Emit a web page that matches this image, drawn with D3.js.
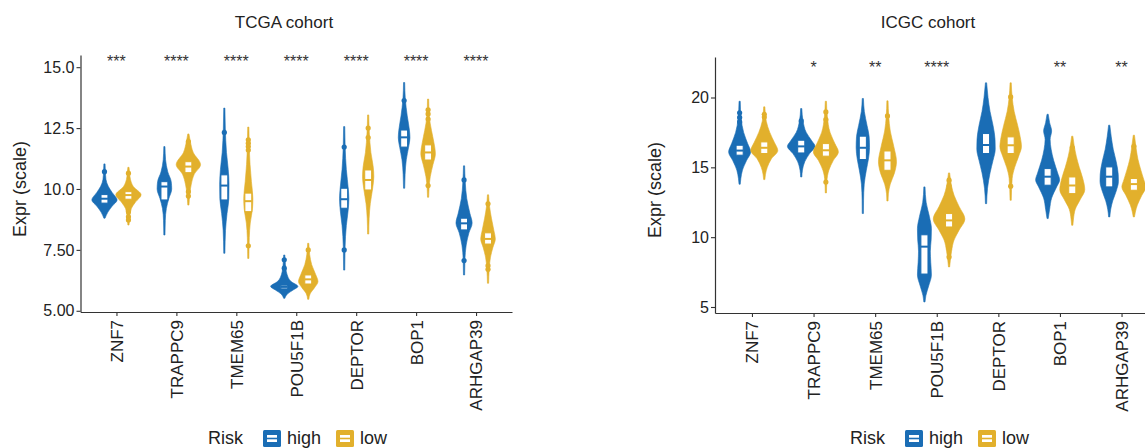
<!DOCTYPE html>
<html><head><meta charset="utf-8">
<script src="https://cdn.jsdelivr.net/npm/d3@7"></script>
<style>
body{margin:0;background:#fff}
text{font-family:"Liberation Sans",Arial,Helvetica,sans-serif}
</style>
</head><body>
<svg id="c" width="1145" height="448"></svg>
<script>
// ---------------- DATA ----------------
const genes = ["ZNF7","TRAPPC9","TMEM65","POU5F1B","DEPTOR","BOP1","ARHGAP39"];
const riskGroups = ["high","low"];
const riskColors = ["#1a6db5","#e2b02c"];
const legendTitle = "Risk";
const yTitle = "Expr (scale)";
const tcgaTitle = "TCGA cohort";
const icgcTitle = "ICGC cohort";

const tcgaStars = ["***","****","****","****","****","****","****"];
const icgcStars = ["","*","**","****","","**","**"];

const tcgaYTicks = [5,7.5,10,12.5,15];
const tcgaYTickLabels = ["5.00","7.50","10.0","12.5","15.0"];
const icgcYTicks = [5,10,15,20];
const icgcYTickLabels = ["5","10","15","20"];

// violin profiles: [value, relative density]
const tcgaHighDensity = [
  [[11.03,0.6],[10.7,1],[10.4,1.5],[10.1,4],[9.85,8],[9.55,13],[9.3,8],[9.05,3.5],[8.8,0.6]],
  [[11.74,0.6],[11.2,1.2],[10.7,3.5],[10.3,7],[10.0,7.5],[9.6,4.5],[9.2,2],[8.7,0.9],[8.11,0.6]],
  [[13.32,0.6],[12.5,1],[11.5,2.2],[10.8,4],[10.2,4.8],[9.6,4.6],[9.0,2.8],[8.3,1.2],[7.36,0.6]],
  [[7.29,0.6],[6.9,1.2],[6.5,2.8],[6.2,7],[6.0,14],[5.85,9],[5.7,3.5],[5.51,0.6]],
  [[12.56,0.6],[11.7,1],[10.8,2.2],[10.0,4.2],[9.6,4.8],[9.1,4],[8.5,2.2],[7.6,0.9],[6.67,0.6]],
  [[14.37,0.6],[13.7,1.2],[13.0,3.2],[12.4,5.5],[12.1,6],[11.7,4.5],[11.2,2.2],[10.6,1],[10.03,0.6]],
  [[10.95,0.6],[10.3,1.2],[9.6,2.8],[9.0,6],[8.6,8.3],[8.2,5],[7.7,2.2],[7.1,0.9],[6.47,0.6]]
];
const tcgaLowDensity = [
  [[10.89,0.6],[10.65,1.2],[10.4,2],[10.1,5],[9.76,13],[9.45,7],[9.2,3],[8.9,1.5],[8.52,0.6]],
  [[12.26,0.6],[11.95,2],[11.5,5],[11.0,12.5],[10.6,6],[10.2,3],[9.8,1.5],[9.34,0.6]],
  [[12.54,0.6],[11.8,1],[11.0,1.8],[10.3,3.2],[9.6,4.7],[9.2,4.3],[8.6,2],[8.0,1],[7.15,0.6]],
  [[7.77,0.6],[7.3,1.5],[6.9,3.5],[6.5,7.5],[6.2,10],[5.95,6.5],[5.7,2],[5.47,0.6]],
  [[13.04,0.6],[12.3,1.2],[11.5,2.8],[10.9,5.2],[10.5,5.8],[10.0,4.5],[9.4,2.2],[8.8,1],[8.15,0.6]],
  [[13.69,0.6],[13.0,1.2],[12.4,3.5],[11.9,6],[11.45,7.5],[11.0,5],[10.5,2.2],[10.0,0.9],[9.66,0.6]],
  [[9.76,0.6],[9.3,1.5],[8.8,3.5],[8.3,6],[7.95,7.5],[7.6,5],[7.2,2.5],[6.7,1.2],[6.13,0.6]]
];
// box stats: [q1, median, q3]
const tcgaHighBox = [[9.42,9.6,9.77],[9.55,10.1,10.3],[9.55,10.14,10.58],[5.9,5.98,6.05],[9.21,9.58,10.03],[11.72,12.12,12.42],[8.32,8.59,8.8]];
const tcgaLowBox  = [[9.58,9.75,9.89],[10.67,10.92,11.12],[9.07,9.5,9.83],[6.1,6.29,6.47],[9.96,10.37,10.78],[11.19,11.5,11.81],[7.74,7.95,8.2]];
const tcgaHighOutliers = [[10.71],[],[12.32],[7.09,6.75],[11.72,7.5],[13.63],[10.37,7.06]];
const tcgaLowOutliers  = [[10.65,9.07,8.86,8.73],[11.95,9.89,9.71],[12.02,11.88,11.74,11.6,7.67],[7.5],[12.5,12.11],[13.25,13.08,12.87,10.14],[9.39,6.85,6.7]];

const icgcHighDensity = [
  [[19.73,0.6],[18.5,1.5],[17.5,4],[16.7,8],[16.1,11],[15.5,7],[14.8,2.8],[14.2,1.2],[13.79,0.6]],
  [[19.21,0.6],[18.3,1.8],[17.5,5],[16.9,10.5],[16.5,13.8],[16.0,8.5],[15.4,3.5],[14.8,1.2],[14.31,0.6]],
  [[19.93,0.6],[19.0,1.5],[18.0,4.2],[17.2,6.3],[16.4,6.7],[15.6,5.6],[14.8,3.5],[13.8,1.4],[12.6,0.7],[11.69,0.6]],
  [[13.6,0.6],[12.5,1.7],[11.5,4.9],[10.6,7],[9.8,6.7],[9.0,5.9],[8.2,6.3],[7.3,7],[6.5,4.2],[5.8,1.4],[5.36,0.6]],
  [[21.05,0.6],[20,2],[19,4],[18,7],[17,9],[16.3,9.2],[15.5,7],[14.6,4],[13.5,1.5],[12.4,0.6]],
  [[18.8,0.6],[18.2,2],[17.6,4],[17.0,2.5],[16.3,3.5],[15.5,6],[14.6,10],[14.1,12],[13.6,9],[12.8,4],[12.0,2],[11.33,0.6]],
  [[18.02,0.6],[17.2,2],[16.3,4],[15.4,7],[14.5,9],[14.0,9.2],[13.3,7],[12.6,3.5],[12,1.5],[11.45,0.6]]
];
const icgcLowDensity = [
  [[19.33,0.6],[18.3,2],[17.5,5.5],[16.8,10],[16.2,13.5],[15.6,7],[15.0,3],[14.5,1.2],[14.12,0.6]],
  [[19.73,0.6],[18.6,1.5],[17.5,4.2],[16.7,9],[16.1,12.5],[15.5,7.5],[14.8,3],[14.0,1],[13.17,0.6]],
  [[19.76,0.6],[18.7,1.2],[17.6,2.8],[16.5,6.3],[15.4,9],[14.6,7],[13.8,2.8],[13.1,0.9],[12.59,0.6]],
  [[14.6,0.6],[14.08,1.5],[13.65,2.5],[13.0,5],[12.2,10],[11.3,15.8],[10.5,10],[9.8,5],[9.0,2.5],[8.3,1.2],[7.87,0.6]],
  [[21.05,0.6],[20,1.5],[19,3.5],[18,7],[17,10],[16.5,10.8],[15.8,8],[15,4],[14.2,1.5],[12.64,0.6]],
  [[17.23,0.6],[16.5,2],[15.8,4],[15,7],[14.2,10.5],[13.4,12.5],[12.7,8],[12,3],[11.3,1.2],[10.85,0.6]],
  [[17.3,0.6],[16.5,2],[15.6,4],[14.8,7],[14.1,10],[13.6,12],[13.0,8],[12.3,3.5],[11.8,1.5],[11.45,0.6]]
];
const icgcHighBox = [[15.87,16.2,16.58],[16.03,16.5,16.94],[15.56,16.4,17.23],[7.36,9.32,10.17],[15.99,16.6,17.42],[13.72,14.33,14.91],[13.6,14.33,15.03]];
const icgcLowBox  = [[15.99,16.4,16.82],[15.8,16.22,16.7],[14.79,15.5,16.17],[10.73,11.2,11.69],[15.99,16.58,17.18],[13.12,13.7,14.31],[13.36,13.8,14.2]];
const icgcHighOutliers = [[18.9,18.57,18.25],[18.32],[],[],[],[],[]];
const icgcLowOutliers  = [[18.8,18.6],[18.97,18.42,13.95],[18.68],[14.08,13.65,9.18,8.58],[20.04,13.65],[16.42],[16.51,16.03]];

// ---------------- DRAW ----------------
const svg = d3.select("#c");
const FONT = '"Liberation Sans",Arial,Helvetica,sans-serif';

function drawPanel(p) {
  const g = svg.append("g");
  const x = d3.scalePoint().domain(genes).range([p.left, p.right]).padding(0.6);
  const step = x.step();
  const y = d3.scaleLinear().domain(p.yDomain).range([p.bottom, p.top]);
  const w = d3.scaleLinear().domain([0, 16]).range([0, 0.26 * step]);
  const off = d3.scalePoint().domain(riskGroups).range([-0.2 * step, 0.2 * step]);
  const boxW = 0.115 * step;

  riskGroups.forEach((r, ri) => {
    const col = riskColors[ri];
    const dens = p.density[ri], boxes = p.box[ri], outs = p.outliers[ri];
    genes.forEach((gn, gi) => {
      const cx = x(gn) + off(r);
      const area = d3.area()
        .y(d => y(d[0]))
        .x0(d => cx - w(d[1]))
        .x1(d => cx + w(d[1]))
        .curve(d3.curveMonotoneY);
      g.append("path").attr("d", area(dens[gi]))
        .attr("fill", col).attr("stroke", col).attr("stroke-width", 0.6);
      const b = boxes[gi];
      g.append("rect")
        .attr("x", cx - boxW / 2).attr("width", boxW)
        .attr("y", y(b[2])).attr("height", y(b[0]) - y(b[2]))
        .attr("fill", "#fff").attr("stroke", col).attr("stroke-width", 1);
      g.append("line")
        .attr("x1", cx - boxW / 2).attr("x2", cx + boxW / 2)
        .attr("y1", y(b[1])).attr("y2", y(b[1]))
        .attr("stroke", col).attr("stroke-width", 2);
      g.selectAll(null).data(outs[gi]).enter().append("circle")
        .attr("cx", cx).attr("cy", d => y(d)).attr("r", 2.6).attr("fill", col);
    });
  });

  // axes
  const ya = g.append("g").attr("transform", `translate(${p.left},0)`)
    .call(d3.axisLeft(y).tickValues(p.yTicks).tickFormat((d, i) => p.yTickLabels[i])
      .tickSize(4).tickSizeOuter(0).tickPadding(2));
  const xa = g.append("g").attr("transform", `translate(0,${p.bottom})`)
    .call(d3.axisBottom(x).tickSize(4).tickSizeOuter(0));
  [ya, xa].forEach(a => {
    a.select(".domain").attr("stroke", "#333").attr("stroke-width", 1.2);
    a.selectAll(".tick line").attr("stroke", "#333").attr("stroke-width", 1.1);
    a.selectAll("text").attr("fill", "#222").style("font-family", FONT);
  });
  ya.selectAll("text").style("font-size", "16px");
  xa.selectAll("text").style("font-size", "17px")
    .attr("transform", "rotate(-90)").attr("text-anchor", "end")
    .attr("x", -8).attr("y", 0).attr("dy", "0.35em");

  // stars
  g.selectAll(null).data(p.stars).enter().append("text")
    .attr("x", (d, i) => x(genes[i])).attr("y", p.starY)
    .attr("text-anchor", "middle").style("font-size", "16px").attr("fill", "#333")
    .text(d => d);

  // title
  g.append("text").attr("x", p.titleX).attr("y", 28).attr("text-anchor", "middle")
    .style("font-size", "17px").attr("fill", "#222").text(p.title);

  // y title
  g.append("text").attr("transform", `translate(${p.yTitleX},${p.yTitleY}) rotate(-90)`)
    .attr("text-anchor", "middle").attr("dy", "0.35em")
    .style("font-size", "18px").attr("fill", "#222").text(yTitle);

  // legend
  const L = p.legendX;
  const lg = g.append("g");
  lg.append("text").attr("x", L).attr("y", 444).style("font-size", "18px").attr("fill", "#222").text(legendTitle);
  riskGroups.forEach((r, ri) => {
    const kx = L + 55 + ri * 73;
    const col = riskColors[ri];
    lg.append("rect").attr("x", kx).attr("y", 430).attr("width", 18).attr("height", 17)
      .attr("rx", 1.5).attr("fill", col);
    lg.append("rect").attr("x", kx + 4).attr("y", 435).attr("width", 10).attr("height", 7)
      .attr("fill", "#fff");
    lg.append("line").attr("x1", kx + 4).attr("x2", kx + 14).attr("y1", 438.5).attr("y2", 438.5)
      .attr("stroke", col).attr("stroke-width", 1.6);
    lg.append("text").attr("x", kx + 24).attr("y", 444).style("font-size", "18px")
      .attr("fill", "#222").text(r);
  });
}

drawPanel({
  left: 80.5, right: 512, top: 55, bottom: 312, yDomain: [4.95, 15.5],
  yTicks: tcgaYTicks, yTickLabels: tcgaYTickLabels,
  density: [tcgaHighDensity, tcgaLowDensity], box: [tcgaHighBox, tcgaLowBox],
  outliers: [tcgaHighOutliers, tcgaLowOutliers],
  stars: tcgaStars, starY: 67, title: tcgaTitle, titleX: 284,
  yTitleX: 20, yTitleY: 189, legendX: 208
});
drawPanel({
  left: 715, right: 1158.5, top: 57, bottom: 313, yDomain: [4.57, 22.9],
  yTicks: icgcYTicks, yTickLabels: icgcYTickLabels,
  density: [icgcHighDensity, icgcLowDensity], box: [icgcHighBox, icgcLowBox],
  outliers: [icgcHighOutliers, icgcLowOutliers],
  stars: icgcStars, starY: 73, title: icgcTitle, titleX: 928,
  yTitleX: 655, yTitleY: 190, legendX: 850
});
</script>
</body></html>
